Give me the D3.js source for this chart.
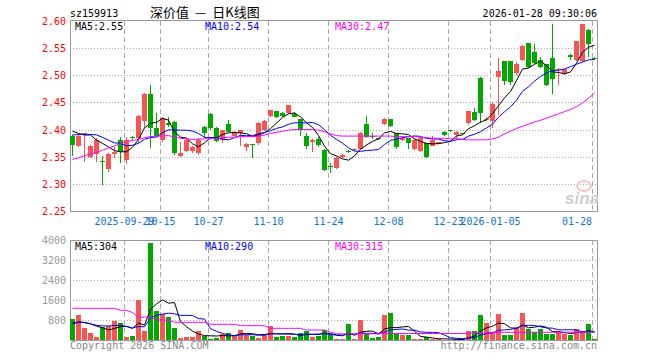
<!DOCTYPE html>
<html>
<head>
<meta charset="utf-8">
<script src="https://cdn.jsdelivr.net/npm/d3@7.9.0/dist/d3.min.js"></script>
<style>
  body { margin: 0; background: #fff; }
  svg { display: block; }
  text { font-family: "DejaVu Sans Mono", monospace; font-size: 10px; }
</style>
</head>
<body>
<svg id="chart" width="660" height="360"></svg>
<script>
// daily candles, oldest first
const open = [2.389,2.370,2.390,2.350,2.355,2.343,2.327,2.355,2.381,2.344,
  2.387,2.385,2.416,2.466,2.402,2.380,2.413,2.414,2.351,2.361,
  2.360,2.357,2.405,2.428,2.402,2.381,2.411,2.389,2.393,2.367,
  2.373,2.375,2.399,2.425,2.434,2.431,2.430,2.429,2.419,2.388,
  2.378,2.383,2.362,2.332,2.329,2.349,2.360,2.363,2.365,2.410,
  2.389,2.384,2.410,2.419,2.393,2.380,2.384,2.365,2.361,2.375,
  2.370,2.374,2.396,2.399,2.390,2.393,2.412,2.432,2.495,2.417,
  2.416,2.496,2.526,2.526,2.504,2.529,2.559,2.542,2.528,2.520,
  2.531,2.510,2.502,2.537,2.529,2.526,2.584,2.532];
const high = [2.390,2.392,2.394,2.372,2.384,2.351,2.357,2.368,2.387,2.386,
  2.389,2.426,2.468,2.482,2.430,2.423,2.424,2.416,2.378,2.382,
  2.370,2.384,2.406,2.430,2.405,2.400,2.418,2.398,2.400,2.375,
  2.374,2.414,2.418,2.436,2.435,2.432,2.446,2.433,2.420,2.394,
  2.382,2.386,2.364,2.338,2.350,2.355,2.362,2.366,2.395,2.425,
  2.393,2.385,2.421,2.420,2.394,2.388,2.385,2.382,2.386,2.376,
  2.388,2.378,2.397,2.400,2.397,2.394,2.435,2.440,2.496,2.423,
  2.451,2.531,2.527,2.527,2.524,2.555,2.560,2.557,2.533,2.521,
  2.594,2.513,2.512,2.540,2.563,2.595,2.585,2.533];
const low = [2.351,2.368,2.341,2.348,2.340,2.298,2.322,2.347,2.338,2.337,
  2.380,2.376,2.402,2.366,2.386,2.378,2.405,2.354,2.350,2.359,
  2.357,2.353,2.384,2.400,2.377,2.375,2.395,2.388,2.370,2.361,
  2.347,2.372,2.397,2.423,2.421,2.424,2.429,2.423,2.389,2.364,
  2.359,2.368,2.324,2.320,2.328,2.348,2.357,2.361,2.362,2.384,
  2.382,2.381,2.408,2.405,2.365,2.379,2.364,2.363,2.359,2.348,
  2.369,2.373,2.388,2.396,2.383,2.390,2.408,2.415,2.412,2.416,
  2.403,2.426,2.482,2.482,2.500,2.526,2.514,2.520,2.514,2.480,
  2.465,2.483,2.500,2.528,2.527,2.524,2.534,2.529];
const close = [2.372,2.388,2.393,2.370,2.380,2.342,2.355,2.359,2.359,2.381,
  2.384,2.425,2.466,2.403,2.388,2.421,2.409,2.356,2.356,2.380,
  2.368,2.381,2.393,2.403,2.379,2.399,2.396,2.396,2.399,2.373,
  2.372,2.412,2.416,2.436,2.423,2.425,2.445,2.424,2.399,2.370,
  2.381,2.371,2.326,2.331,2.348,2.354,2.359,2.365,2.393,2.387,
  2.387,2.382,2.420,2.407,2.367,2.385,2.375,2.380,2.384,2.349,
  2.380,2.377,2.390,2.397,2.396,2.391,2.434,2.417,2.430,2.419,
  2.447,2.507,2.489,2.488,2.520,2.554,2.516,2.523,2.516,2.482,
  2.494,2.511,2.511,2.533,2.563,2.594,2.557,2.530];
const volume = [840,1000,493,293,133,533,560,773,693,133,
  173,1600,360,3893,1160,1027,920,493,93,133,
  133,360,160,53,93,227,293,200,400,200,
  160,93,253,573,133,160,173,133,293,373,
  133,173,400,200,40,40,640,40,800,227,
  67,107,1000,1080,227,200,200,40,40,107,
  40,27,13,13,27,27,360,360,1000,680,
  333,1040,200,200,520,1080,440,333,440,240,
  240,360,240,200,440,333,640,40];

// the 9 sessions before the window, needed for MA5 / MA10 at the left edge
const priorClose = [2.380,2.390,2.370,2.390,2.385,2.408,2.408,2.370,2.427];
const priorVolume = [700,800,730,750,750,600,560,600,600];

// MA30 lines as drawn (their history goes further back than the window)
const ma30Price = [2.345,2.348,2.352,2.355,2.358,2.362,2.366,2.370,2.374,2.378,
  2.380,2.382,2.385,2.387,2.388,2.388,2.389,2.386,2.384,2.383,
  2.382,2.382,2.383,2.383,2.384,2.385,2.386,2.386,2.387,2.387,
  2.387,2.388,2.390,2.393,2.395,2.397,2.399,2.400,2.400,2.400,
  2.400,2.399,2.396,2.392,2.389,2.388,2.388,2.388,2.388,2.388,
  2.388,2.388,2.388,2.388,2.387,2.387,2.387,2.387,2.386,2.385,
  2.384,2.384,2.384,2.383,2.383,2.382,2.381,2.381,2.381,2.381,
  2.383,2.386,2.392,2.397,2.402,2.406,2.410,2.414,2.417,2.421,
  2.425,2.429,2.433,2.437,2.442,2.449,2.458,2.467];
const ma30Volume = [1267,1267,1267,1267,1267,1267,1267,1267,1187,1187,
  1100,893,920,920,800,800,800,707,707,707,
  707,707,707,627,627,627,627,627,573,573,
  573,573,573,467,467,467,467,467,467,400,
  400,400,400,307,245,245,245,245,245,245,
  245,245,260,260,260,260,260,260,260,260,
  260,260,260,260,260,260,285,285,285,285,
  307,307,307,307,307,307,307,307,307,307,
  307,307,307,307,307,307,310,315];

const tickIndex = [9, 15, 23, 33, 43, 53, 63, 70, 87];
const tickLabels = ['2025-09-29','10-15','10-27','11-10','11-24','12-08','12-23','2026-01-05','01-28'];
const priceTicks = [2.25, 2.30, 2.35, 2.40, 2.45, 2.50, 2.55, 2.60];
const volumeTicks = [800, 1600, 2400, 3200, 4000];
const maNames = ['MA5', 'MA10', 'MA30'];
const maPriceNow = ['2.55', '2.54', '2.47'];
const maVolumeNow = ['304', '290', '315'];

const RED = '#f95454', GREEN = '#00a800', GRID = '#aaa', FRAME = '#999';
const maColors = ['#000', '#0000ff', '#ff00ff'];

const n = close.length;
const svg = d3.select('#chart');

const x = d3.scaleBand().domain(d3.range(n)).range([70, 598])
  .paddingInner(1 / 6).paddingOuter(1 / 12).align(0);
const y = d3.scaleLinear().domain([2.25, 2.60]).range([211, 21]);
const yv = d3.scaleLinear().domain([0, 4000]).range([340, 240]);

// simple moving average, using the earlier sessions where needed
function movingAvg(values, prior, k) {
  const all = prior.concat(values);
  return values.map((_, i) => d3.mean(all.slice(i + prior.length - k + 1, i + prior.length + 1)));
}
const ma5 = movingAvg(close, priorClose, 5);
const ma10 = movingAvg(close, priorClose, 10);
const vma5 = movingAvg(volume, priorVolume, 5);
const vma10 = movingAvg(volume, priorVolume, 10);

const up = i => close[i] >= open[i];

// grids
const grid = svg.append('g');
grid.selectAll('.hp').data(priceTicks.slice(1, -1)).join('line')
  .attr('x1', 70).attr('x2', 598)
  .attr('y1', d => Math.round(y(d)) + 0.5).attr('y2', d => Math.round(y(d)) + 0.5)
  .attr('stroke', GRID).attr('stroke-dasharray', '1,2');
grid.selectAll('.hv').data(volumeTicks.slice(0, -1)).join('line')
  .attr('x1', 70).attr('x2', 598)
  .attr('y1', d => Math.round(yv(d)) + 0.5).attr('y2', d => Math.round(yv(d)) + 0.5)
  .attr('stroke', GRID).attr('stroke-dasharray', '1,2');
[[21, 211], [240, 340]].forEach(([t, b]) => {
  grid.append('g').selectAll('line').data(tickIndex).join('line')
    .attr('x1', d => x(d) + 0.5).attr('x2', d => x(d) + 0.5)
    .attr('y1', t).attr('y2', b)
    .attr('stroke', GRID).attr('stroke-dasharray', '5,3');
});

// frames
svg.append('rect').attr('x', 70.5).attr('y', 20.5).attr('width', 527).attr('height', 191)
  .attr('fill', 'none').attr('stroke', FRAME);
svg.append('rect').attr('x', 70.5).attr('y', 240.5).attr('width', 527).attr('height', 100)
  .attr('fill', 'none').attr('stroke', FRAME);

// sina watermark
const wm = svg.append('g');
wm.append('ellipse').attr('cx', 584).attr('cy', 186).attr('rx', 7).attr('ry', 5)
  .attr('fill', 'none').attr('stroke', '#f0c4c4').attr('stroke-width', 2);
wm.append('text').attr('x', 565).attr('y', 204).text('sina')
  .style('font-family', 'Arial, "Liberation Sans", sans-serif')
  .style('font-size', '17px').style('font-weight', 'bold').style('font-style', 'italic')
  .attr('fill', '#cfcfcf');

// candles
const candles = svg.append('g').attr('shape-rendering', 'crispEdges');
candles.selectAll('.wick').data(d3.range(n)).join('rect')
  .attr('x', i => x(i) + 2).attr('width', 1)
  .attr('y', i => Math.round(y(high[i])))
  .attr('height', i => Math.max(1, Math.round(y(low[i])) - Math.round(y(high[i]))))
  .attr('fill', i => up(i) ? RED : GREEN);
candles.selectAll('.body').data(d3.range(n)).join('rect')
  .attr('x', i => x(i)).attr('width', x.bandwidth())
  .attr('y', i => Math.round(y(Math.max(open[i], close[i]))))
  .attr('height', i => Math.max(1, Math.round(y(Math.min(open[i], close[i]))) - Math.round(y(Math.max(open[i], close[i])))))
  .attr('fill', i => up(i) ? RED : GREEN);

// volume bars
candles.append('g').selectAll('rect').data(d3.range(n)).join('rect')
  .attr('x', i => x(i)).attr('width', x.bandwidth())
  .attr('y', i => Math.round(yv(volume[i])))
  .attr('height', i => 340 - Math.round(yv(volume[i])))
  .attr('fill', i => up(i) ? RED : GREEN);

// MA lines
const priceLine = d3.line().x((d, i) => x(i) + 2.5).y(d => y(d));
const volLine = d3.line().x((d, i) => x(i) + 2.5).y(d => yv(d));
[ma5, ma10, ma30Price].forEach((s, k) => {
  svg.append('path').attr('d', priceLine(s)).attr('fill', 'none')
    .attr('stroke', maColors[k]).attr('stroke-width', 1);
});
[vma5, vma10, ma30Volume].forEach((s, k) => {
  svg.append('path').attr('d', volLine(s)).attr('fill', 'none')
    .attr('stroke', maColors[k]).attr('stroke-width', 1);
});

// axis labels
svg.append('g').selectAll('text').data(priceTicks).join('text')
  .attr('x', 66).attr('y', d => y(d) + 4).attr('text-anchor', 'end')
  .attr('fill', '#f00').text(d => d.toFixed(2));
svg.append('g').selectAll('text').data(volumeTicks).join('text')
  .attr('x', 66).attr('y', d => yv(d) + 4).attr('text-anchor', 'end')
  .attr('fill', '#999').text(d => d);
svg.append('g').selectAll('text').data(tickIndex).join('text')
  .attr('x', (d, k) => k === tickIndex.length - 1 ? 592 : x(d) + 0.5)
  .attr('y', 225)
  .attr('text-anchor', (d, k) => k === tickIndex.length - 1 ? 'end' : 'middle')
  .attr('fill', '#0f72d6').text((d, k) => tickLabels[k]);

// MA legends
maNames.forEach((m, k) => {
  svg.append('text').attr('x', 75 + 130 * k).attr('y', 30)
    .attr('fill', maColors[k]).text(`${m}:${maPriceNow[k]}`);
  svg.append('text').attr('x', 75 + 130 * k).attr('y', 250)
    .attr('fill', maColors[k]).text(`${m}:${maVolumeNow[k]}`);
});

// header + footer
svg.append('text').attr('x', 70).attr('y', 17).attr('fill', '#000').text('sz159913');
svg.append('text').attr('x', 150).attr('y', 17).attr('fill', '#000')
  .style('font-family', '"Noto Sans CJK SC", sans-serif').style('font-size', '13px')
  .attr('xml:space', 'preserve').text('深价值  —  日K线图');
svg.append('text').attr('x', 597).attr('y', 17).attr('text-anchor', 'end')
  .attr('fill', '#000').text('2026-01-28 09:30:06');
svg.append('text').attr('x', 70).attr('y', 349).attr('fill', '#888').text('Copyright 2026 SINA.COM');
svg.append('text').attr('x', 597).attr('y', 349).attr('text-anchor', 'end')
  .attr('fill', '#888').text('http://finance.sina.com.cn');
</script>
</body>
</html>
